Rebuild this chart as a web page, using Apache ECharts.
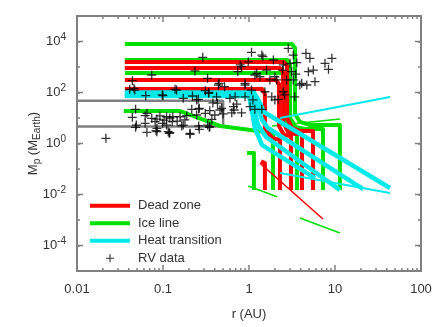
<!DOCTYPE html>
<html>
<head>
<meta charset="utf-8">
<script src="https://cdn.jsdelivr.net/npm/echarts@6/dist/echarts.min.js"></script>
<style>
  html, body { margin: 0; padding: 0; background: #fff; }
  #chart { width: 436px; height: 327px; }
</style>
</head>
<body>
<div id="chart"></div>
<script>
// tick labels
var xTickLabels = ['0.01', '0.1', '1', '10', '100'];
var yLabelExponents = [-4, -2, 0, 2, 4];

// planet tracks, [r (AU), Mp (M_Earth)]
var deadZoneTracks = [
  [[0.036, 1570], [2.55, 1570], [2.77, 1095], [2.77, 10], [3.16, 4.05], [3.92, 3.1], [5.55, 3.1], [5.55, 0.015]],
  [[0.036, 914], [2.29, 914], [2.49, 637], [2.49, 7.0], [2.84, 2.82], [3.43, 2.36], [4.13, 2.36], [4.13, 0.015]],
  [[0.036, 309], [2.06, 309], [2.23, 215], [2.23, 4.86], [2.55, 2.15], [3.08, 1.97], [3.08, 0.015]],
  [[0.036, 137], [1.42, 137], [1.53, 87], [1.53, 4.05], [1.85, 1.64], [2.29, 1.37], [2.29, 0.015]],
  [[1.38, 0.2], [1.53, 0.17], [1.53, 0.015]]
];
var deadZoneThin = [
  [[1.34, 0.17], [7.25, 0.0011]]
];
var iceLineTracks = [
  [[0.036, 7980], [3.16, 7980], [3.43, 5560], [3.43, 14.4], [3.92, 7.0], [5.12, 5.3], [11.4, 5.3], [11.4, 0.015]],
  [[0.036, 1880], [2.77, 1880], [3.0, 1310], [3.0, 10], [3.52, 4.4], [4.48, 3.7], [7.25, 3.7], [7.25, 0.015]],
  [[0.036, 582], [2.49, 582], [2.69, 405], [2.69, 5.8], [3.08, 3.1], [3.61, 2.82], [3.61, 0.015]],
  [[0.035, 18.8], [0.158, 18.8], [0.46, 4.86], [1.9, 2.58], [1.9, 0.015]],
  [[0.95, 0.42], [1.14, 0.42], [1.14, 0.015]]
];
var iceLineThin = [
  [[0.98, 0.0215], [2.12, 0.0082]],
  [[3.92, 0.0012], [11.4, 0.00031]],
  [[1.85, 4.9], [11.4, 9.2]]
];
var heatTracks = [
  [[0.036, 100], [1.14, 100], [1.31, 46], [1.49, 17.2], [43.6, 0.018]],
  [[0.036, 91], [1.08, 91], [1.24, 32], [1.42, 8.4], [1.66, 4.05], [21.2, 0.0164]],
  [[0.036, 76], [1.03, 76], [1.14, 24.7], [1.27, 5.3], [1.58, 1.8], [11.4, 0.015]],
  [[0.036, 73], [1.0, 73], [1.08, 20.6], [1.17, 4.05], [1.42, 0.87], [5.85, 0.044]]
];
var heatThin = [
  [[2.29, 10], [43.6, 66.6]],
  [[2.29, 0.07], [43.6, 0.0115]]
];
var innerBox = [[0.01, 48], [0.5, 48], [0.5, 4.6], [0.01, 4.6]];

// radial velocity planets
var rvData = [
  [0.0217, 1.6], [0.29, 2400], [0.235, 700], [0.074, 485], [0.044, 290], [0.33, 360],
  [0.046, 146], [0.138, 133], [0.31, 118], [0.44, 197], [0.063, 75], [0.10, 75],
  [0.172, 59], [0.246, 51], [0.38, 39], [0.048, 22], [0.216, 22], [0.26, 22.5],
  [0.044, 10.6], [0.062, 12.3], [0.074, 9.7], [0.092, 12], [0.11, 11.2], [0.13, 11.2],
  [0.158, 11.2], [0.189, 12.3], [0.246, 13.1], [0.31, 15.3], [0.40, 13.1], [0.049, 5.3],
  [0.062, 6.2], [0.081, 7.2], [0.099, 6.2], [0.128, 7.2], [0.165, 4.9], [0.26, 4.9],
  [0.065, 2.75], [0.085, 2.9], [0.12, 2.65], [0.206, 2.3], [0.048, 4.3], [0.33, 5.3],
  [0.74, 655], [0.45, 230], [0.52, 169], [0.34, 102], [0.60, 59], [0.43, 38],
  [0.72, 35], [0.35, 19.3], [0.46, 20.6], [0.67, 20.6], [0.085, 9.1], [0.103, 8.3],
  [0.12, 10], [0.146, 7.6], [0.50, 14.4], [0.085, 3.9], [0.11, 5.3], [0.172, 5.3],
  [0.115, 2.9], [0.264, 3.6], [0.345, 4.3], [2.86, 5400], [1.07, 3770], [1.41, 2950],
  [3.27, 2950], [4.6, 3450], [5.1, 2200], [9.2, 2200], [7.65, 1400], [8.4, 810],
  [0.98, 1600], [1.92, 1880], [3.0, 1400], [3.6, 1475], [0.82, 1030], [1.6, 760],
  [2.46, 760], [3.14, 655], [5.6, 760], [4.9, 655], [1.17, 485], [1.34, 415],
  [1.75, 310], [2.1, 310], [2.74, 310], [3.5, 530], [0.9, 197], [1.07, 125],
  [3.27, 310], [3.9, 197], [4.7, 197], [5.85, 265], [2.5, 107], [3.4, 68],
  [1.84, 68], [2.19, 54], [0.69, 68], [0.9, 68], [0.66, 27.7], [1.03, 27.7],
  [1.17, 22], [1.41, 22], [0.63, 16], [0.82, 16], [0.48, 24], [0.35, 4.56],
  [1.45, 2540], [0.79, 1200], [2.5, 1200], [1.23, 566], [2.0, 415], [4.1, 230],
  [0.9, 230], [1.53, 107], [2.0, 51], [2.6, 80], [1.11, 51], [0.22, 73],
  [0.144, 125], [0.041, 133], [0.065, 15.3], [0.18, 8.4], [0.264, 24], [0.37, 8.9],
  [0.083, 3.2], [0.257, 54], [0.098, 80], [0.047, 125], [0.34, 93], [0.42, 68],
  [0.118, 2.5], [0.206, 2.5]
];

var font = 'Liberation Sans, Arial, sans-serif';
var frame = '#808080';
var textColor = '#333';
var RED = '#ff0000';
var GREEN = '#00e000';
var CYAN = '#00eaea';
var plusPath = 'path://M3,0H4V3H7V4H4V7H3V4H0V3H3Z';
var barPath = 'path://M0,0H40V4H0Z';

function trackSeries(name, color, tracks, width) {
  return tracks.map(function (t) {
    return {
      name: name,
      type: 'line',
      data: t,
      symbol: 'none',
      color: color,
      lineStyle: { width: width, color: color, join: 'round', cap: 'butt' },
      silent: true,
      z: 3
    };
  });
}

// minor ticks on x (2..9 per decade) and long ticks on labelled y decades
var xMinor = [];
for (var k = -2; k < 2; k++) {
  for (var m = 2; m <= 9; m++) xMinor.push([m * Math.pow(10, k), 1]);
}
var yMajor = yLabelExponents.map(function (e) { return [1, Math.pow(10, e)]; });

function xTickItem(params, api) {
  var p = api.coord([api.value(0), 1]);
  var cs = params.coordSys;
  var b = cs.y + cs.height, t = cs.y;
  var st = { stroke: frame, lineWidth: 1.5 };
  return { type: 'group', children: [
    { type: 'line', shape: { x1: p[0], y1: b, x2: p[0], y2: b - 3 }, style: st },
    { type: 'line', shape: { x1: p[0], y1: t, x2: p[0], y2: t + 3 }, style: st }
  ]};
}
function yTickItem(params, api) {
  var p = api.coord([1, api.value(1)]);
  var cs = params.coordSys;
  var l = cs.x, r = cs.x + cs.width;
  var st = { stroke: frame, lineWidth: 1.5 };
  return { type: 'group', children: [
    { type: 'line', shape: { x1: l, y1: p[1], x2: l + 6, y2: p[1] }, style: st },
    { type: 'line', shape: { x1: r, y1: p[1], x2: r - 6, y2: p[1] }, style: st }
  ]};
}

var axisLine = { show: true, onZero: false, lineStyle: { color: frame, width: 2 } };

var series = [];
series.push({
  type: 'line', data: innerBox, symbol: 'none', silent: true, z: 2,
  lineStyle: { color: '#7f7f7f', width: 2.5 }
});
series = series.concat(
  trackSeries('Ice line', GREEN, iceLineTracks, 4),
  trackSeries('Ice line', GREEN, iceLineThin, 1.5),
  trackSeries('Dead zone', RED, deadZoneTracks, 4),
  trackSeries('Dead zone', RED, deadZoneThin, 1.5),
  trackSeries('Heat transition', CYAN, heatTracks, 4.5),
  trackSeries('Heat transition', CYAN, heatThin, 2)
);
series.push({
  name: 'RV data', type: 'scatter', data: rvData, symbol: plusPath, symbolSize: 9,
  itemStyle: { color: '#000' }, silent: true, z: 5
});
series.push({ type: 'custom', data: xMinor, renderItem: xTickItem, encode: { x: 0, y: 1 }, silent: true, z: 6 });
series.push({ type: 'custom', data: yMajor, renderItem: yTickItem, encode: { x: 0, y: 1 }, silent: true, z: 6 });

var chart = echarts.init(document.getElementById('chart'), null, { renderer: 'canvas' });
chart.setOption({
  animation: false,
  backgroundColor: '#fff',
  grid: { left: 77, right: 15, top: 16, bottom: 56, containLabel: false },
  legend: {
    orient: 'vertical', left: 90, top: 197, padding: 0,
    itemWidth: 40, itemHeight: 8, itemGap: 0, selectedMode: false,
    itemStyle: { borderWidth: 0 },
    textStyle: { fontFamily: font, fontSize: 13, color: textColor, lineHeight: 17.5, padding: [0, 0, 0, 3] },
    data: [
      { name: 'Dead zone', icon: barPath },
      { name: 'Ice line', icon: barPath },
      { name: 'Heat transition', icon: barPath },
      { name: 'RV data', icon: plusPath }
    ]
  },
  xAxis: [
    {
      type: 'log', logBase: 10, min: 0.01, max: 100, interval: 1, position: 'bottom',
      name: 'r (AU)', nameLocation: 'middle', nameGap: 37,
      nameTextStyle: { fontFamily: font, fontSize: 13, color: textColor },
      axisLine: axisLine,
      axisTick: { inside: true, length: 6, lineStyle: { color: frame, width: 1.5 } },
      axisLabel: {
        margin: 12, fontFamily: font, fontSize: 13, color: textColor,
        formatter: function (v) { return xTickLabels[Math.round(Math.log10(v)) + 2]; }
      },
      splitLine: { show: false }
    },
    {
      type: 'log', logBase: 10, min: 0.01, max: 100, interval: 1, position: 'top',
      axisLine: axisLine,
      axisTick: { inside: true, length: 6, lineStyle: { color: frame, width: 1.5 } },
      axisLabel: { show: false },
      splitLine: { show: false }
    }
  ],
  yAxis: [
    {
      type: 'log', logBase: 10, min: 1e-5, max: 1e5, interval: 1, position: 'left',
      name: '{m|M}{s|p}{m|\u00a0(M}{s|Earth}{m|)}', nameLocation: 'middle', nameGap: 35,
      nameMoveOverlap: false,
      nameTextStyle: {
        rich: {
          m: { fontFamily: font, fontSize: 13, color: textColor, lineHeight: 18 },
          s: { fontFamily: font, fontSize: 10, color: textColor, lineHeight: 10, verticalAlign: 'bottom' }
        }
      },
      axisLine: axisLine,
      axisTick: { inside: true, length: 3, lineStyle: { color: frame, width: 1.5 } },
      axisLabel: {
        margin: 11, showMinLabel: true, showMaxLabel: true, interval: 0,
        formatter: function (v) {
          var e = Math.round(Math.log10(v));
          if (yLabelExponents.indexOf(e) < 0) return '';
          return '{b|10}{e|' + e + '}';
        },
        rich: {
          b: { fontFamily: font, fontSize: 13, color: textColor, lineHeight: 18 },
          e: { fontFamily: font, fontSize: 10, color: textColor, lineHeight: 12, verticalAlign: 'top' }
        }
      },
      splitLine: { show: false }
    },
    {
      type: 'log', logBase: 10, min: 1e-5, max: 1e5, interval: 1, position: 'right',
      axisLine: axisLine,
      axisTick: { inside: true, length: 3, lineStyle: { color: frame, width: 1.5 } },
      axisLabel: { show: false },
      splitLine: { show: false }
    }
  ],
  series: series
});
</script>
</body>
</html>
